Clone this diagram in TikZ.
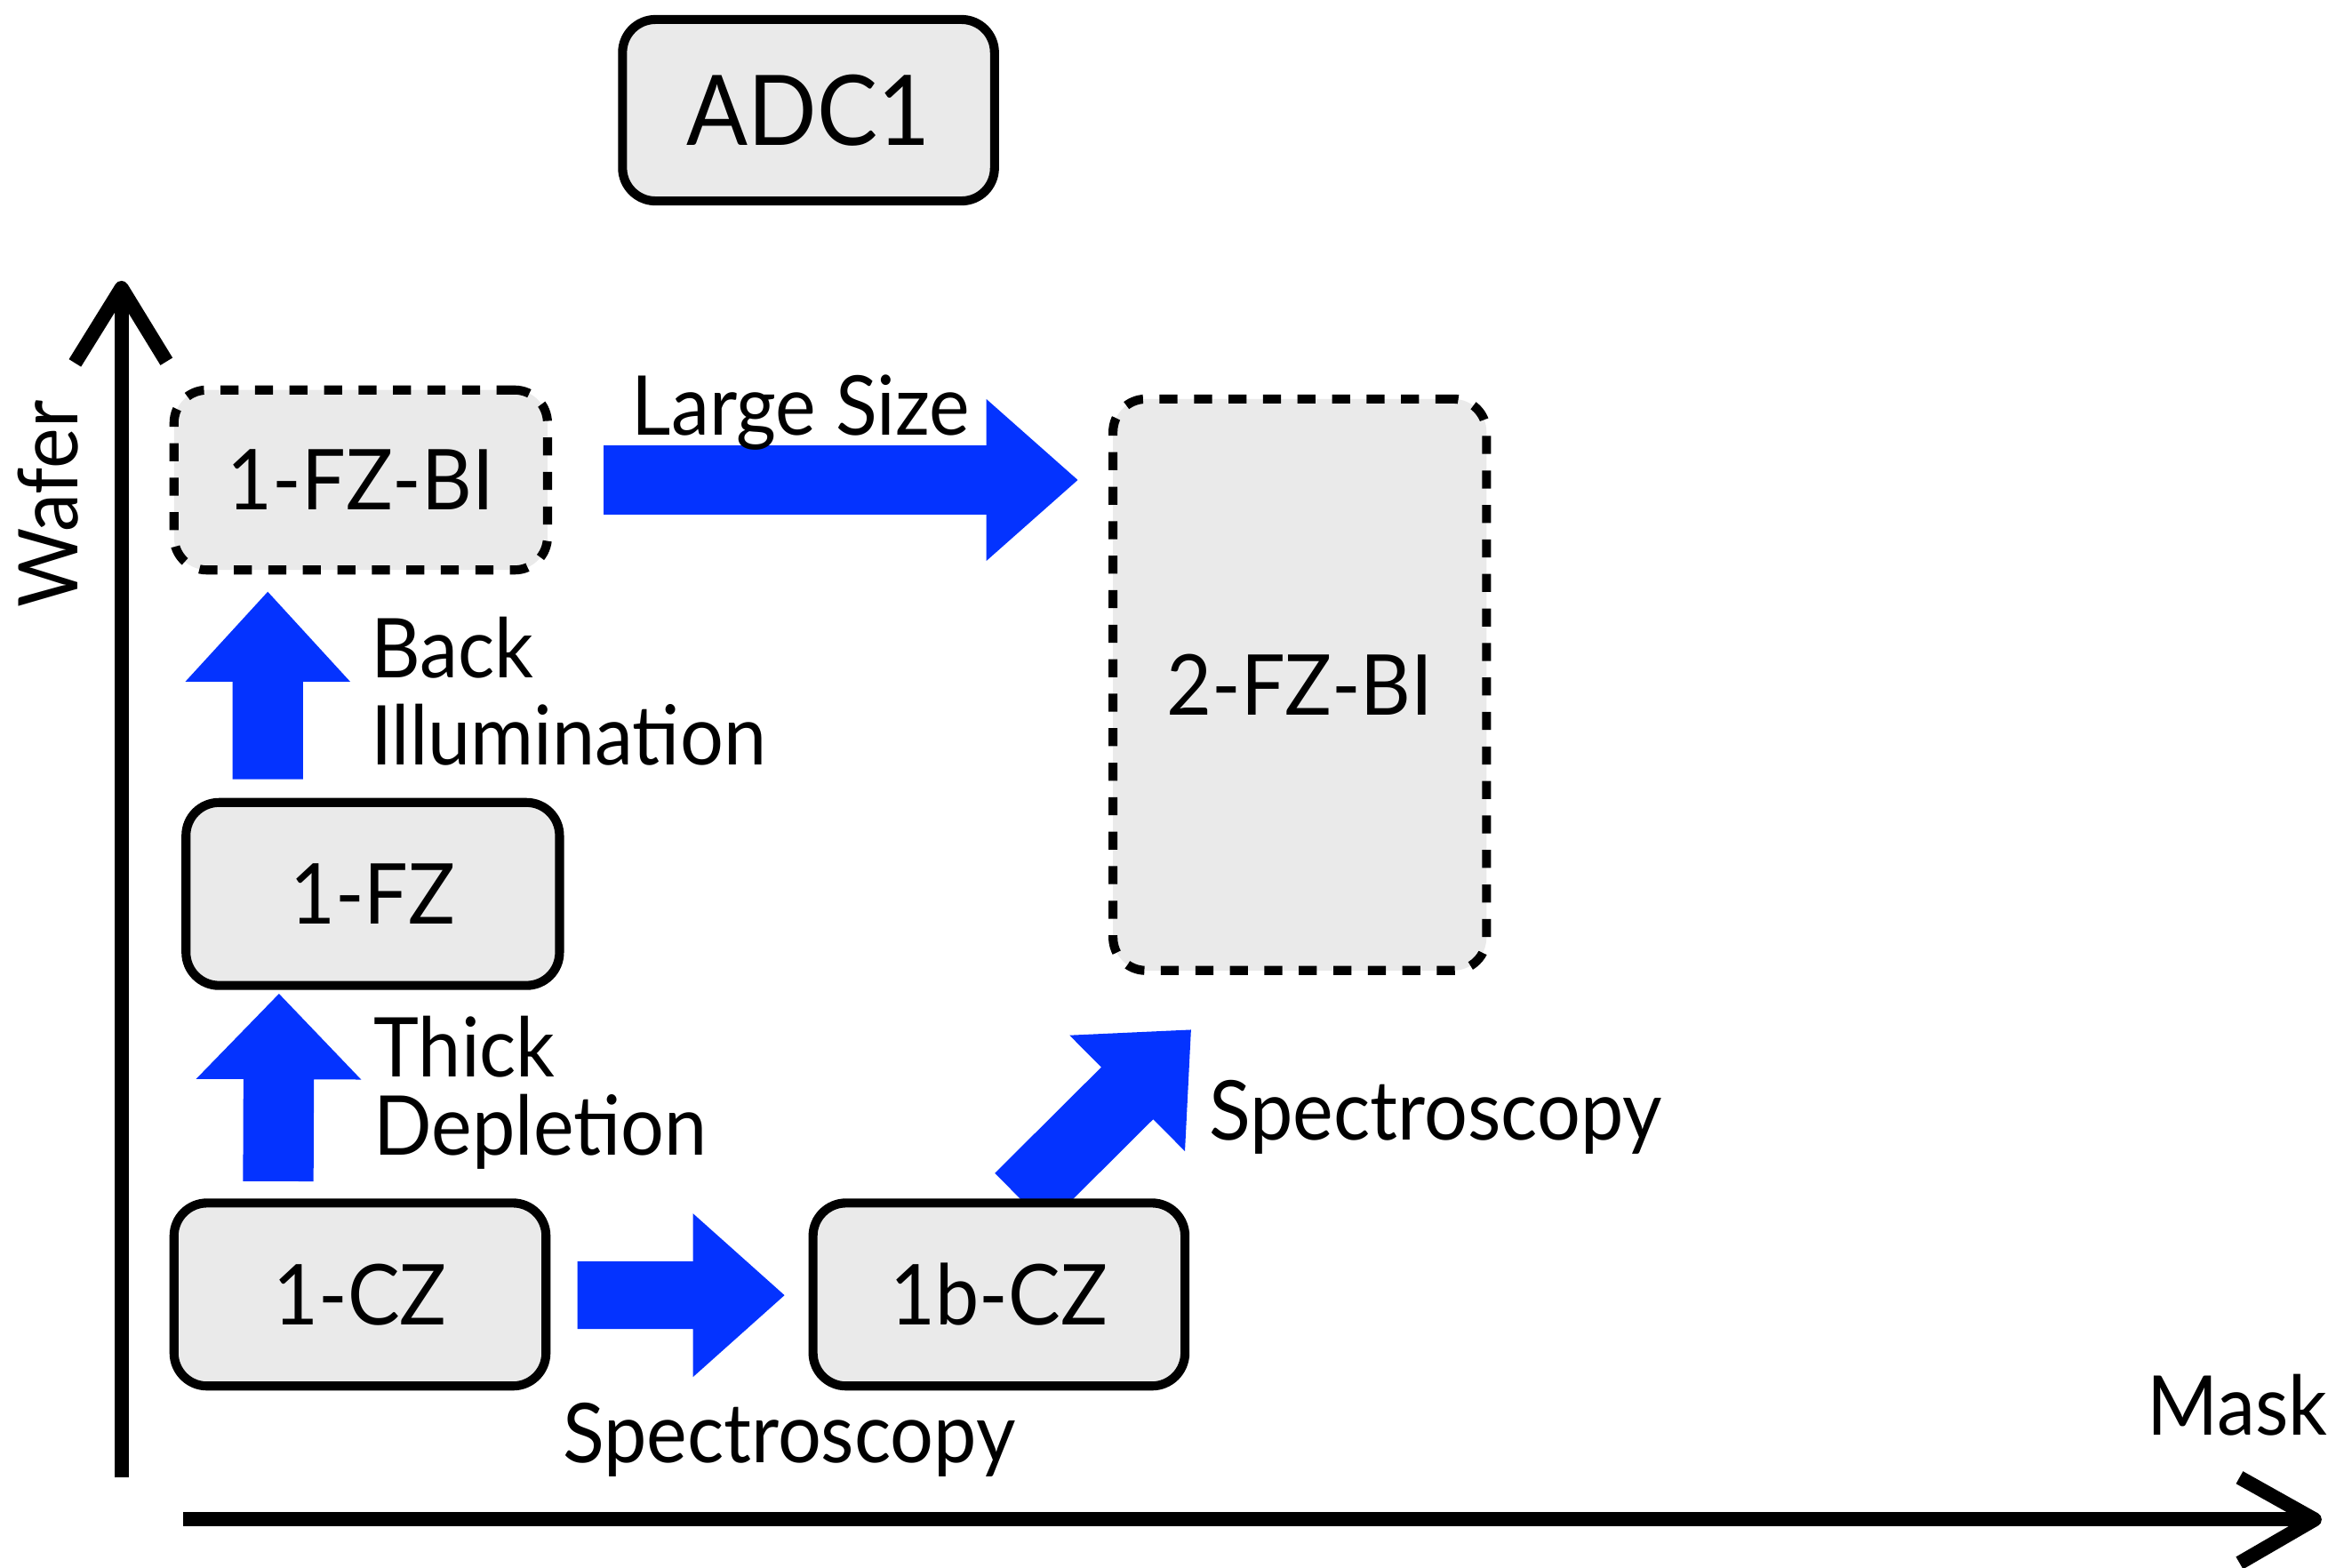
\documentclass[tikz,border=0pt]{standalone}
\usepackage{fontspec}
\setmainfont{Lato}[FakeStretch=0.93]
\usetikzlibrary{calc}
\definecolor{boxgray}{HTML}{EAEAEA}
\definecolor{flowblue}{HTML}{0433FF}
\tikzset{
  stage/.style={draw=black, line width=6pt, fill=boxgray, rounded corners=22pt,
    inner sep=0pt, font=\fontsize{56}{60}\selectfont},
  planned/.style={stage, dash pattern=on 12pt off 11pt},
  lbl/.style={inner sep=0pt, anchor=base west, font=\fontsize{55}{60}\selectfont},
  axisline/.style={line width=9.5pt, line join=round},
  % thick block arrow: #1 half shaft width, #2 half head width, #3 head length
  blockarrow/.style n args={3}{fill=flowblue, to path={
      ($(\tikztotarget)!#3!(\tikztostart)$) coordinate (headbase)
      ($(\tikztostart)!#1!90:(\tikztotarget)$)
      -- ($(headbase)!#1!90:(\tikztotarget)$)
      -- ($(headbase)!#2!90:(\tikztotarget)$)
      -- (\tikztotarget)
      -- ($(headbase)!#2!-90:(\tikztotarget)$)
      -- ($(headbase)!#1!-90:(\tikztotarget)$)
      -- ($(\tikztostart)!#1!-90:(\tikztotarget)$)
      -- cycle}},
}
\begin{document}
\begin{tikzpicture}[x=1pt,y=1pt]
\useasboundingbox (0,0) rectangle (1568,1045);

% stages
\node[stage, minimum width=248pt, minimum height=121pt,
      font=\fontsize{65}{70}\selectfont] (adc) at (539,971.5) {ADC1};
\node[planned, minimum width=249pt, minimum height=120pt] (fzbi1) at (240.5,725) {1-FZ-BI};
\node[planned, minimum width=249pt, minimum height=381pt] (fzbi2) at (866.5,588.5) {2-FZ-BI};
\node[stage, minimum width=249pt, minimum height=122pt] (fz1) at (248.5,449) {1-FZ};
\node[stage, minimum width=248pt, minimum height=122pt] (cz1) at (240,182) {1-CZ};

% arrow end points
\coordinate (backS)  at ($(fz1.north)+(-70,12.5)$);
\coordinate (backT)  at ($(fzbi1.south)+(-62,-11.5)$);
\coordinate (thickS) at ($(cz1.north)+(-54.5,11.5)$);
\coordinate (thickT) at ($(fz1.south)+(-62.5,-2.5)$);
\coordinate (largeS) at ($(fzbi1.east)+(34.5,0)$);
\coordinate (largeT) at ($(fzbi2.west |- fzbi1.east)+(-20.5,0)$);

% the diagonal arrow passes under the 1b-CZ box
\coordinate (diagS) at (680.5,245.5);
\coordinate (diagT) at ($(fzbi2.south)+(-72.5,-36.5)$);
\path[blockarrow={24.5pt}{54.5pt}{60pt}] (diagS) to (diagT);

\node[stage, minimum width=248pt, minimum height=122pt] (czb) at (666,182) {1b-CZ};

\coordinate (specS) at ($(cz1.east)+(18,-0.5)$);
\coordinate (specT) at ($(czb.west)+(-16,-0.5)$);

\path[blockarrow={23.5pt}{55pt}{60pt}] (backS) to (backT);
\path[blockarrow={23.5pt}{55pt}{57pt}] (thickS) to (thickT);
\path[blockarrow={22.5pt}{54.5pt}{61pt}] (specS) to (specT);
\path[blockarrow={23pt}{54pt}{61pt}] (largeS) to (largeT);

% axes
\coordinate (yfoot) at (81,60);
\coordinate (ytip)  at (81,853);
\coordinate (xfoot) at (122,32);
\coordinate (xtip)  at (1543,32);
\draw[axisline] (yfoot) -- (ytip);
\draw[axisline] ($(ytip)+(-31,-50)$) -- (ytip) -- ($(ytip)+(30,-49)$);
\draw[axisline] (xfoot) -- (xtip);
\draw[axisline] ($(xtip)+(-50,28)$) -- (xtip) -- ($(xtip)+(-50,-29)$);

% labels
\node[lbl, rotate=90] (wafer) at (52,640) {Wafer};
\node[lbl] (mask) at (1431,88) {Mask};
\node[lbl] (large) at (421,755) {Large Size};
\node[lbl] (back1) at (247,593) {Back};
\node[lbl] (back2) at (247,535) {Illumination};
\node[lbl] (thick1) at (249,327) {Thick};
\node[lbl] (thick2) at (249,275) {Depletion};
\node[lbl] (spec1) at (375,70) {Spectroscopy};
\node[lbl] (spec2) at (806,285) {Spectroscopy};
\end{tikzpicture}
\end{document}
